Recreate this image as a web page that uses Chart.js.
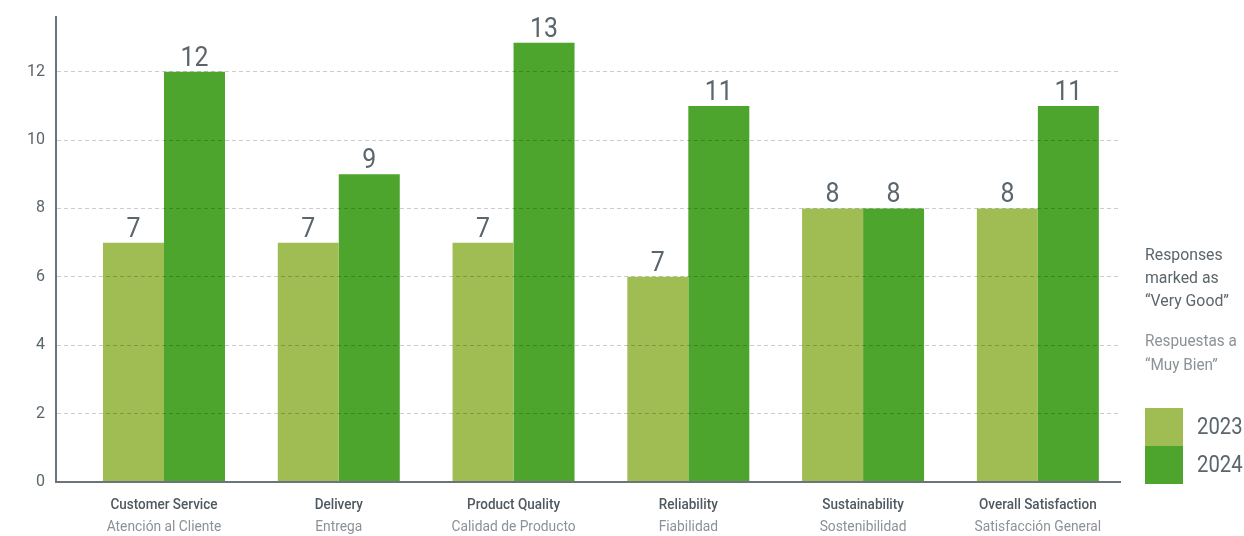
<!DOCTYPE html>
<html lang="en">
<head>
  <meta charset="utf-8" />
  <title>Responses marked as Very Good, 2023 vs 2024</title>
  <style>
    * { margin: 0; padding: 0; box-sizing: border-box; }
    body { background: #ffffff; font-family: Roboto, sans-serif; }
    .wrap { position: relative; width: 1244px; height: 536px; }
  </style>
</head>
<body>
  <div class="wrap"><canvas id="chart"></canvas></div>

  <script src="https://cdn.jsdelivr.net/npm/chart.js@4.4.1/dist/chart.umd.min.js"></script>
  <script>
    // chart data
    const categoriesEn = ["Customer Service", "Delivery", "Product Quality", "Reliability", "Sustainability", "Overall Satisfaction"];
    const categoriesEs = ["Atención al Cliente", "Entrega", "Calidad de Producto", "Fiabilidad", "Sostenibilidad", "Satisfacción General"];
    const seriesNames = ["2023", "2024"];
    const values2023 = [7, 7, 7, 6, 8, 8];
    const values2024 = [12, 9, 12.85, 11, 8, 11];
    const labels2023 = ["7", "7", "7", "7", "8", "8"];
    const labels2024 = ["12", "9", "13", "11", "8", "11"];
    const yTicks = [0, 2, 4, 6, 8, 10, 12];
    const legendTitle = ["Responses", "marked as", "\u201CVery Good\u201D"];
    const legendSubtitle = ["Respuestas a", "\u201CMuy Bien\u201D"];

    const colors = ["#9fbd52", "#4ea52e"];
    const textDark = "#5b656c";
    const textLight = "#8b9297";
    const axisColor = "#6b747b";

    Chart.defaults.font.family = "Roboto, sans-serif";

    const toPoints = arr => arr.map((v, i) => ({ x: i, y: v }));

    // the original uses a condensed face, so squeeze text a little
    function squeezed(ctx, text, x, y, sx) {
      ctx.save();
      ctx.translate(x, y);
      ctx.scale(sx, 1);
      ctx.fillText(text, 0, 0);
      ctx.restore();
    }

    // value labels above each bar
    const barLabels = {
      id: "barLabels",
      afterDatasetsDraw(chart) {
        const ctx = chart.ctx;
        const texts = [labels2023, labels2024];
        ctx.save();
        ctx.font = "27px Roboto, sans-serif";
        ctx.fillStyle = textDark;
        ctx.textAlign = "center";
        ctx.textBaseline = "alphabetic";
        chart.data.datasets.forEach((ds, d) => {
          chart.getDatasetMeta(d).data.forEach((bar, i) => {
            squeezed(ctx, texts[d][i], bar.x, bar.y - 6, 0.92);
          });
        });
        ctx.restore();
      }
    };

    // two-line category labels + legend block on the right
    const extras = {
      id: "extras",
      afterDraw(chart) {
        const ctx = chart.ctx;
        const xs = chart.scales.x;
        ctx.save();
        ctx.textAlign = "center";
        ctx.textBaseline = "middle";
        categoriesEn.forEach((t, i) => {
          ctx.font = "500 15px Roboto, sans-serif";
          ctx.fillStyle = "#4f595f";
          squeezed(ctx, t, xs.getPixelForValue(i), 505, 0.9);
          ctx.font = "15px Roboto, sans-serif";
          ctx.fillStyle = textLight;
          squeezed(ctx, categoriesEs[i], xs.getPixelForValue(i), 527, 0.92);
        });

        const lx = 1145;
        ctx.textAlign = "left";
        ctx.font = "17px Roboto, sans-serif";
        ctx.fillStyle = textDark;
        legendTitle.forEach((t, i) => squeezed(ctx, t, lx, 256 + i * 23, 0.93));
        ctx.fillStyle = textLight;
        legendSubtitle.forEach((t, i) => squeezed(ctx, t, lx, 342 + i * 24, 0.9));

        ctx.font = "23px Roboto, sans-serif";
        seriesNames.forEach((name, i) => {
          const top = 408 + i * 38;
          ctx.fillStyle = colors[i];
          ctx.fillRect(lx, top, 38, 38);
          ctx.fillStyle = textDark;
          squeezed(ctx, name, lx + 52, top + 20, 0.88);
        });
        ctx.restore();
      }
    };

    new Chart(document.getElementById("chart"), {
      type: "bar",
      data: {
        datasets: [
          { label: seriesNames[0], data: toPoints(values2023), backgroundColor: colors[0] },
          { label: seriesNames[1], data: toPoints(values2024), backgroundColor: colors[1] }
        ]
      },
      options: {
        responsive: true,
        maintainAspectRatio: false,
        animation: false,
        categoryPercentage: 0.698,
        barPercentage: 1.0,
        layout: { padding: { top: 17, right: 124, left: 0, bottom: 0 } },
        plugins: {
          legend: { display: false },
          tooltip: { enabled: false }
        },
        scales: {
          x: {
            type: "linear",
            offset: false,
            min: -0.618,
            max: 5.47,
            afterBuildTicks: s => { s.ticks = categoriesEn.map((_, i) => ({ value: i })); },
            afterFit: s => { s.height = 54; s.paddingLeft = 0; s.paddingRight = 0; },
            grid: { display: false },
            border: { color: axisColor, width: 2, z: 2 },
            ticks: { display: false }
          },
          y: {
            min: 0,
            max: 13.6,
            afterBuildTicks: s => { s.ticks = yTicks.map(v => ({ value: v })); },
            afterFit: s => { s.width = 56; s.paddingTop = 0; s.paddingBottom = 0; },
            grid: {
              z: 1,
              drawTicks: false,
              color: c => (c.tick && c.tick.value === 0 ? "rgba(0,0,0,0)" : "rgba(0,0,0,0.2)")
            },
            border: { color: axisColor, width: 2, dash: [4, 3], z: 2 },
            ticks: {
              padding: 11,
              color: textDark,
              font: { size: 16 }
            }
          }
        }
      },
      plugins: [barLabels, extras]
    });
  </script>
</body>
</html>
